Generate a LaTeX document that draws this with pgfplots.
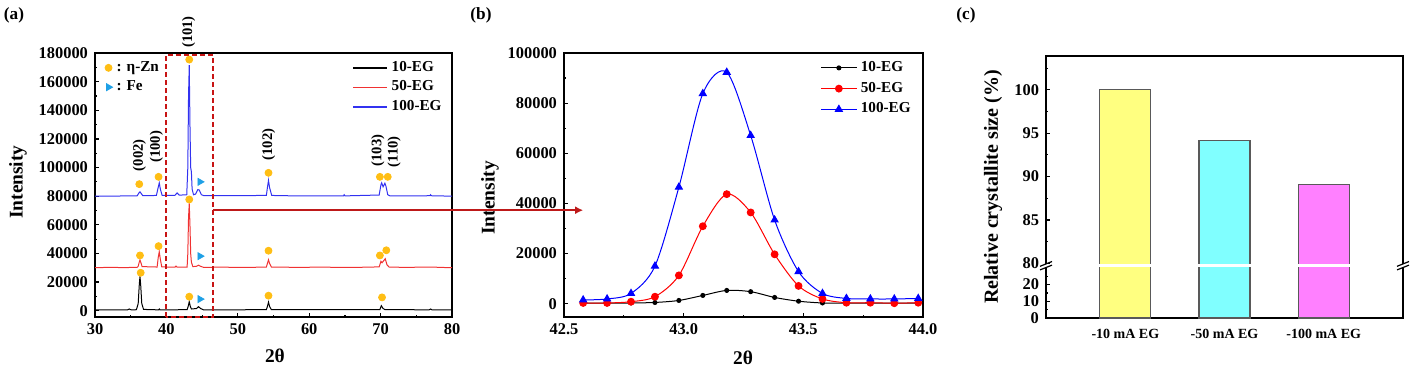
\documentclass[border=0pt]{standalone}
\usepackage{pgfplots}
\pgfplotsset{compat=1.18}
\usepackage{fontspec}
\setmainfont{Liberation Serif}
\usetikzlibrary{arrows.meta}
\newcommand{\tickfont}{\fontsize{8.2}{9}\selectfont\bfseries}
\newcommand{\labfont}{\fontsize{9.7}{10}\selectfont\bfseries}
\newcommand{\legfont}{\fontsize{7.6}{8.5}\selectfont\bfseries}
\newcommand{\hklfont}{\fontsize{7.3}{8}\selectfont\bfseries}
\newcommand{\cxfont}{\fontsize{7}{8}\selectfont\bfseries}
\definecolor{znc}{RGB}{255,190,20}
\definecolor{fec}{RGB}{30,160,230}
\definecolor{dred}{RGB}{200,20,20}
\definecolor{arr}{RGB}{190,25,25}
\definecolor{myred}{RGB}{240,50,50}
\definecolor{myblue}{RGB}{50,50,240}
\definecolor{cyel}{RGB}{255,255,128}
\definecolor{ccya}{RGB}{128,255,255}
\definecolor{cmag}{RGB}{255,128,255}
\pgfplotsset{
  myaxis/.style={scale only axis, axis line style={line width=0.75pt},
    tick align=inside, xtick pos=left, ytick pos=left,
    major tick length=2.2pt, minor tick length=1.2pt,
    every tick/.style={black, line width=0.6pt},
    ticklabel style={font=\tickfont},
    scaled x ticks=false, scaled y ticks=false,
    /pgf/number format/fixed,
    /pgf/number format/assume math mode=true,
    /pgf/number format/1000 sep={},
    label style={font=\labfont},
    clip mode=individual}
}
\begin{document}
\begin{tikzpicture}
\useasboundingbox (0,0) rectangle (708.5pt,-187pt);
% ---------------- panel (a)
\begin{axis}[myaxis, name=pa, at={(47.5pt,-158.5pt)}, anchor=south west,
  width=178.5pt, height=132pt,
  xmin=30, xmax=80, ymin=-4400, ymax=180000,
  xtick={30,40,...,80}, minor xtick={35,45,...,75},
  ytick={0,20000,...,180000}, minor ytick={10000,30000,...,170000},
  xlabel={2θ}, ylabel={Intensity},
  xlabel style={at={(axis description cs:0.504,-0.148)}, anchor=center},
  ylabel style={at={(axis description cs:-0.216,0.511)}, anchor=center},
  legend style={at={(0.983,0.985)}, anchor=north east, draw=none, fill=none,
    font=\legfont, inner sep=0pt, row sep=-0.8pt},
  legend cell align=left,
  legend image code/.code={\draw[#1, line width=0.7pt] (0pt,0pt) -- (17pt,0pt);}]
\addplot[black, line width=0.5pt] coordinates {(30,500)(32,600)(34.5,500)(34.8,1200)(35.1,500)(35.8,700)(36.05,5000)(36.2,18000)(36.3,24000)(36.4,18000)(36.55,5000)(36.8,900)(38.9,600)(39.0,1200)(39.1,600)(42.9,700)(43.05,3000)(43.2,6300)(43.35,3000)(43.5,1200)(44.2,1500)(44.5,2800)(44.8,1500)(45.2,600)(54.0,700)(54.15,3000)(54.3,6000)(54.45,3000)(54.7,700)(69.9,800)(70.1,3500)(70.35,1500)(70.6,800)(76.8,600)(77.0,1200)(77.2,600)(80,500)};
\addlegendentry{10-EG}
\addplot[myred, line width=0.5pt] coordinates {(30,30000)(32,30300)(34,30100)(35.9,30300)(36.05,31000)(36.2,34000)(36.3,35400)(36.4,34000)(36.6,30800)(38.7,30500)(38.85,37000)(39.0,41200)(39.15,36000)(39.35,30600)(41.2,30400)(41.35,31200)(41.5,30400)(42.9,30500)(43.0,40000)(43.1,65000)(43.2,75000)(43.3,60000)(43.4,40000)(43.5,34000)(43.7,30800)(44.2,31000)(44.5,31800)(44.8,31000)(45.2,30300)(48,30400)(51,30200)(54.0,30500)(54.15,33000)(54.3,35600)(54.45,33000)(54.7,30500)(58,30300)(62,30400)(66,30200)(69.8,30600)(70.05,34500)(70.2,33500)(70.45,35000)(70.65,36300)(70.9,32000)(71.2,30400)(74,30300)(77,30500)(80,30000)};
\addlegendentry{50-EG}
\addplot[myblue, line width=0.5pt] coordinates {(30,80000)(33,80100)(35.9,80200)(36.15,82200)(36.3,83000)(36.45,82000)(36.7,80300)(38.6,80500)(38.8,85000)(39.0,89300)(39.15,85000)(39.4,80600)(41.2,80600)(41.5,82300)(41.8,80700)(42.85,81000)(43.0,100000)(43.1,150000)(43.2,171500)(43.3,130000)(43.4,100000)(43.5,97000)(43.6,85000)(43.8,81000)(44.1,81500)(44.4,84600)(44.6,84300)(44.9,81000)(45.3,80300)(54.0,80500)(54.15,86000)(54.3,91000)(54.45,86000)(54.75,80500)(58,80200)(64.8,80200)(64.9,81000)(65.0,80200)(69.8,80800)(70.05,88000)(70.15,89300)(70.35,86500)(70.6,89000)(70.75,87000)(71.0,81000)(71.3,80200)(76.9,80300)(77.0,81000)(77.1,80300)(80,80000)};
\addlegendentry{100-EG}
\node[rotate=90, font=\hklfont] at (axis cs:36.2,108600) {(002)};
\node[rotate=90, font=\hklfont] at (axis cs:38.6,114400) {(100)};
\node[rotate=90, font=\hklfont] at (axis cs:43.1,194700) {(101)};
\node[rotate=90, font=\hklfont] at (axis cs:54.3,116000) {(102)};
\node[rotate=90, font=\hklfont] at (axis cs:69.6,112000) {(103)};
\node[rotate=90, font=\hklfont] at (axis cs:71.9,111000) {(110)};
\draw[dred, line width=1pt, dash pattern=on 2.5pt off 1.5pt] (axis cs:39.9,-4400) rectangle (axis cs:46.56,178400);
\coordinate (arrS) at (axis cs:46.56,70200);
\end{axis}
\begin{axis}[scale only axis, at={(47.5pt,-158.5pt)}, anchor=south west,
  width=178.5pt, height=132pt, hide axis,
  xmin=30, xmax=80, ymin=-4400, ymax=180000,
  legend style={at={(0.027,0.985)}, anchor=north west, draw=none, fill=none,
    font=\legfont, inner sep=0pt, row sep=-0.8pt},
  legend cell align=left]
\addplot[only marks, mark=*, mark size=1.75pt, znc, mark options={draw=znc, fill=znc}] coordinates {(36.2,88400)(38.9,93500)(43.2,175400)(54.3,96300)(69.9,93500)(71.0,93500)(36.3,38600)(38.9,45100)(43.2,77700)(54.3,41900)(69.9,38600)(70.8,42200)(36.4,26500)(43.2,9800)(54.3,10500)(70.2,9300)};
\addlegendentry{: η-Zn}
\addplot[only marks, mark=triangle*, mark size=2pt, fec, mark options={rotate=-90, draw=fec, fill=fec}] coordinates {(44.7,90000)(44.7,38100)(44.7,8100)};
\addlegendentry{: Fe}
\end{axis}
% ---------------- panel (b)
\begin{axis}[myaxis, name=pb, at={(282pt,-158.5pt)}, anchor=south west,
  width=179.5pt, height=132pt,
  xmin=42.5, xmax=44.0, ymin=-5300, ymax=100000,
  xtick={42.5,43.0,43.5,44.0}, minor xtick={42.75,43.25,43.75},
  xticklabel style={/pgf/number format/.cd, fixed, fixed zerofill, precision=1},
  ytick={0,20000,...,100000}, minor ytick={10000,30000,...,90000},
  xlabel={2θ}, ylabel={Intensity},
  xlabel style={at={(axis description cs:0.499,-0.155)}, anchor=center},
  ylabel style={at={(axis description cs:-0.206,0.451)}, anchor=center},
  legend style={at={(0.978,0.985)}, anchor=north east, draw=none, fill=none,
    font=\legfont, inner sep=0pt, row sep=-0.2pt},
  legend cell align=left,
  legend image code/.code={\draw[mark repeat=2,mark phase=2,#1] plot coordinates {(0pt,0pt)(8.75pt,0pt)(17.5pt,0pt)};}]
\addplot[black, line width=0.5pt, smooth, mark=*, mark size=1pt] coordinates {(42.58,200)(42.68,200)(42.78,300)(42.88,500)(42.98,1300)(43.08,3300)(43.18,5300)(43.28,4800)(43.38,2500)(43.48,1000)(43.58,300)(43.68,200)(43.78,200)(43.88,200)(43.98,200)};
\addlegendentry{10-EG}
\addplot[red, line width=0.5pt, smooth, mark=*, mark size=1.7pt] coordinates {(42.58,300)(42.68,300)(42.78,800)(42.88,2800)(42.98,11300)(43.08,30900)(43.18,43700)(43.28,36400)(43.38,19700)(43.48,7100)(43.58,1900)(43.68,400)(43.78,400)(43.88,200)(43.98,400)};
\addlegendentry{50-EG}
\addplot[blue, line width=0.5pt, smooth, mark=triangle*, mark size=2pt] coordinates {(42.58,1500)(42.68,1900)(42.78,4100)(42.88,15000)(42.98,46500)(43.08,83800)(43.18,92300)(43.28,67100)(43.38,33400)(43.48,12800)(43.58,4100)(43.68,2100)(43.78,1900)(43.88,1900)(43.98,2100)};
\addlegendentry{100-EG}
\coordinate (arrE) at (axis cs:42.58,0);
\end{axis}
\draw[arr, line width=1pt, -{Latex[length=4pt,width=4pt]}] (arrS) -- (arrS -| arrE);
% ---------------- panel (c)
\begin{axis}[myaxis, name=pc, at={(523pt,-159pt)}, anchor=south west,
  width=178.5pt, height=131pt,
  y coord trafo/.code={\pgfmathparse{(#1>=50)*(54.7+(#1-80)*8.67)+(#1<50)*(#1*1.67)}},
  xmin=-0.8, xmax=2.8, ymin=0, ymax=103.9,
  xtick={0,1,2}, xticklabels={-10 mA EG,-50 mA EG,-100 mA EG},
  xticklabel style={font=\cxfont}, major x tick style={draw=none},
  ytick={0,10,20,80,85,90,95,100}, yticklabels={0,10,20,80,85,90,95,100},
  minor ytick={5,15,25,82.5,87.5,92.5,97.5,102.5},
  ylabel={Relative crystallite size (\%)},
  ylabel style={at={(axis description cs:-0.148,0.5)}, anchor=center, font=\fontsize{10}{11}\selectfont\bfseries},
  ybar, bar width=25.5pt]
\addplot[fill=cyel, draw=black!65, line width=0.6pt, bar shift=0pt] coordinates {(0,100)};
\addplot[fill=ccya, draw=black!65, line width=0.6pt, bar shift=0pt] coordinates {(1,94.2)};
\addplot[fill=cmag, draw=black!65, line width=0.6pt, bar shift=0pt] coordinates {(2,89.1)};
\coordinate (cL) at (rel axis cs:0,0.1996);
\coordinate (cR) at (rel axis cs:1,0.1996);
\end{axis}
\fill[white] ([xshift=-1.5pt,yshift=-0.8pt]cL) rectangle ([xshift=1.5pt,yshift=0.8pt]cR);
\foreach \p in {cL,cR}{
  \draw[line width=0.6pt] ([xshift=-3pt,yshift=-2.1pt]\p) -- ([xshift=3pt,yshift=0.3pt]\p);
  \draw[line width=0.6pt] ([xshift=-3pt,yshift=-0.3pt]\p) -- ([xshift=3pt,yshift=2.1pt]\p);
}
% panel labels
\node[font=\fontsize{8.6}{9}\selectfont\bfseries] at (7pt,-7.5pt) {(a)};
\node[font=\fontsize{8.6}{9}\selectfont\bfseries] at (240.5pt,-7.5pt) {(b)};
\node[font=\fontsize{8.6}{9}\selectfont\bfseries] at (483pt,-7.5pt) {(c)};
\end{tikzpicture}
\end{document}
